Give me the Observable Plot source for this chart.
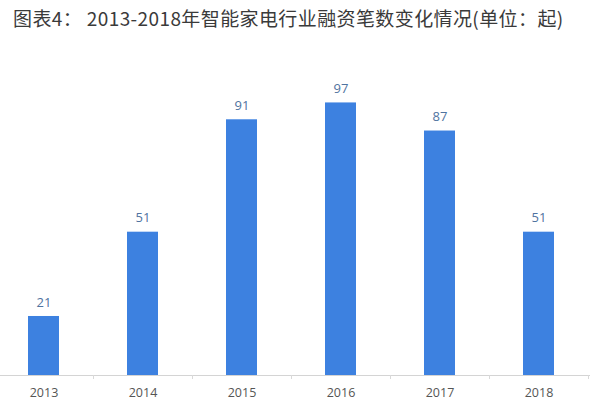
<!DOCTYPE html>
<html><head><meta charset="utf-8">
<script src="https://cdn.jsdelivr.net/npm/d3@7"></script>
<script src="https://cdn.jsdelivr.net/npm/@observablehq/plot@0.6"></script>
<style>
body{margin:0;background:#fff;width:590px;overflow:hidden;}
#title{height:36px;line-height:36px;padding-left:13px;font-family:"Noto Sans CJK SC",sans-serif;font-size:19px;letter-spacing:0.4px;color:#3a3a3a;white-space:nowrap;}
svg{display:block;}
</style></head><body>
<div id="title">图表4：&nbsp;2013-2018年智能家电行业融资笔数变化情况(单位：起)</div>
<div id="chart"></div>
<script>
const years = ["2013","2014","2015","2016","2017","2018"];
const counts = [21, 51, 91, 97, 87, 51];
const data = years.map((y,i)=>({year:y, n:counts[i]}));

const chart = Plot.plot({
  width: 590, height: 377,
  marginLeft: 0, marginRight: 0, marginTop: 58, marginBottom: 38,
  style: {fontFamily: "'Open Sans','Noto Sans CJK SC',sans-serif", background: "#fff"},
  x: {domain: years, range: [-6.5, 587.5], paddingInner: 0.69, paddingOuter: 0.345, label: null},
  y: {domain: [0, 100], axis: null},
  marks: [
    Plot.barY(data, {x: "year", y: "n", fill: "#3d81e0"}),
    Plot.ruleY([0], {stroke: "#d4d4d4", strokeWidth: 1}),
    Plot.axisX({tickSize: 4, stroke: "#d9d9d9", tickFormat: () => "", dx: 49.5}),
    Plot.axisX({tickSize: 0, tickPadding: 13, fontSize: 12.5, fill: "#555", label: null}),
    Plot.text(data, {x: "year", y: "n", text: d => String(d.n), dy: -14, fill: "#4f73a0", fontSize: 13})
  ]
});
document.getElementById("chart").appendChild(chart);
</script>
</body></html>
